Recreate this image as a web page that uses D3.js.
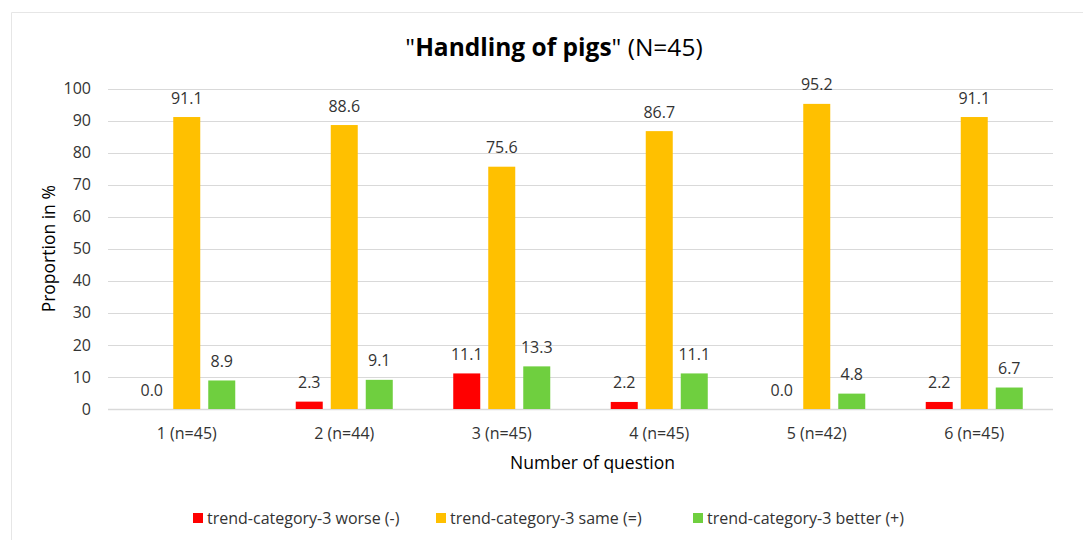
<!DOCTYPE html>
<html>
<head>
<meta charset="utf-8">
<script src="https://cdn.jsdelivr.net/npm/d3@7"></script>
<style>
  html, body { margin: 0; padding: 0; background: #fff; }
  svg { display: block; font-family: "Open Sans", "Noto Sans", sans-serif; }
</style>
</head>
<body>
<svg id="chart" width="1083" height="540"></svg>
<script>
// Questions on the x axis
const categories = ["1 (n=45)", "2 (n=44)", "3 (n=45)", "4 (n=45)", "5 (n=42)", "6 (n=45)"];
// Proportions in % per trend category
const worse  = [0.0, 2.3, 11.1, 2.2, 0.0, 2.2];
const same   = [91.1, 88.6, 75.6, 86.7, 95.2, 91.1];
const better = [8.9, 9.1, 13.3, 11.1, 4.8, 6.7];
const seriesNames = ["trend-category-3 worse (-)", "trend-category-3 same (=)", "trend-category-3 better (+)"];
const seriesColors = ["#ff0000", "#ffc000", "#6fcf3f"];
const yTicks = [0, 10, 20, 30, 40, 50, 60, 70, 80, 90, 100];

const series = [worse, same, better];

const svg = d3.select("#chart");
const W = 1083, H = 540;
const m = { left: 108, right: 30, top: 88.5, bottom: 131 };
const textColor = "#333333";
const fontSize = 16;

// Frame around the chart area
svg.append("path")
  .attr("d", `M11.5,${H} V12.5 H${W}`)
  .attr("fill", "none")
  .attr("stroke", "#e6e6e6")
  .attr("stroke-width", 1);

const x = d3.scaleBand()
  .domain(categories)
  .range([m.left, W - m.right]);

const y = d3.scaleLinear().domain([0, 100]).range([H - m.bottom, m.top]);

// Bars within a question group: 27px wide, 8px apart, group centred in band
const xs = d3.scaleBand()
  .domain(d3.range(series.length))
  .range([0, x.bandwidth()])
  .paddingInner(0.2286)
  .paddingOuter(0.864);

// Gridlines
svg.append("g")
  .selectAll("line")
  .data(yTicks)
  .join("line")
  .attr("x1", m.left).attr("x2", W - m.right)
  .attr("y1", d => Math.round(y(d)) + 0.5).attr("y2", d => Math.round(y(d)) + 0.5)
  .attr("stroke", "#d9d9d9")
  .attr("stroke-width", d => d === 0 ? 1.5 : 1);

// Y axis labels
const yAxis = d3.axisLeft(y).tickValues(yTicks).tickSize(0).tickPadding(17);
svg.append("g")
  .attr("transform", `translate(${m.left},0)`)
  .call(yAxis)
  .call(g => g.select(".domain").remove())
  .call(g => g.selectAll("text")
    .attr("font-family", "Open Sans, sans-serif")
    .attr("font-size", fontSize)
    .attr("fill", textColor));

// X axis labels
const xAxis = d3.axisBottom(x).tickSize(0).tickPadding(19);
svg.append("g")
  .attr("transform", `translate(0,${y(0)})`)
  .call(xAxis)
  .call(g => g.select(".domain").remove())
  .call(g => g.selectAll("text")
    .attr("font-family", "Open Sans, sans-serif")
    .attr("font-size", fontSize)
    .attr("fill", textColor));

// Bars and value labels
const groups = svg.append("g")
  .selectAll("g")
  .data(categories)
  .join("g")
  .attr("transform", d => `translate(${x(d)},0)`);

groups.each(function(cat, ci) {
  const g = d3.select(this);
  series.forEach((vals, si) => {
    const v = vals[ci];
    g.append("rect")
      .attr("x", xs(si))
      .attr("width", xs.bandwidth())
      .attr("y", y(v))
      .attr("height", y(0) - y(v))
      .attr("fill", seriesColors[si]);
    g.append("text")
      .attr("x", xs(si) + xs.bandwidth() / 2)
      .attr("y", y(v) - 13.5)
      .attr("text-anchor", "middle")
      .attr("font-size", fontSize)
      .attr("fill", textColor)
      .text(v.toFixed(1));
  });
});

// Title
const title = svg.append("text")
  .attr("x", 554)
  .attr("y", 56)
  .attr("text-anchor", "middle")
  .attr("font-size", 24.5)
  .attr("fill", "#000");
title.append("tspan").text("\"");
title.append("tspan").attr("font-weight", "bold").text("Handling of pigs");
title.append("tspan").text("\" (N=45)");

// Axis titles
svg.append("text")
  .attr("transform", `translate(55,${(y(0) + y(100)) / 2}) rotate(-90)`)
  .attr("text-anchor", "middle")
  .attr("font-size", 17.5)
  .attr("fill", "#000")
  .text("Proportion in %");

svg.append("text")
  .attr("x", (m.left + W - m.right) / 2 + 12)
  .attr("y", 469)
  .attr("text-anchor", "middle")
  .attr("font-size", 17.5)
  .attr("fill", "#000")
  .text("Number of question");

// Legend
const legendX = [193, 436, 693];
const legend = svg.append("g")
  .selectAll("g")
  .data(seriesNames)
  .join("g")
  .attr("transform", (d, i) => `translate(${legendX[i]},513)`);
legend.append("rect")
  .attr("width", 10).attr("height", 10)
  .attr("fill", (d, i) => seriesColors[i]);
legend.append("text")
  .attr("x", 14).attr("y", 10.5)
  .attr("font-size", fontSize)
  .attr("fill", textColor)
  .text(d => d);
</script>
</body>
</html>
